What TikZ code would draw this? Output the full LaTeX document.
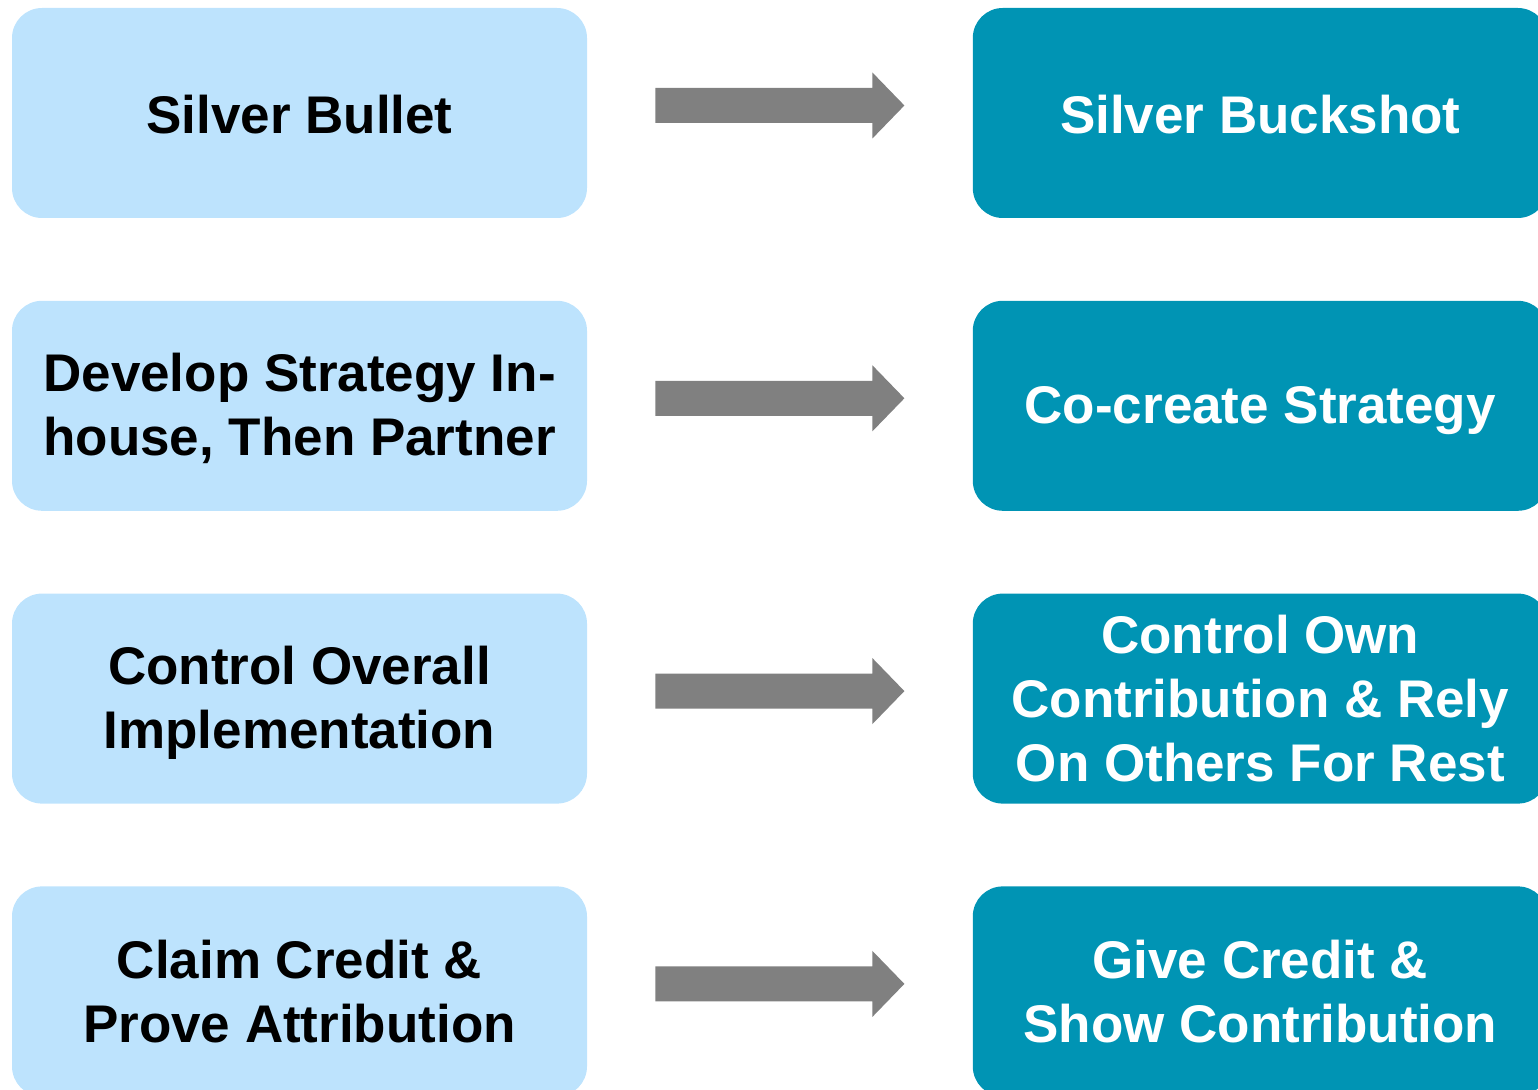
\documentclass[tikz,border=0pt]{standalone}
\usepackage{fontspec}
\setmainfont{Liberation Sans}
\usetikzlibrary{positioning,calc}
\definecolor{oldblue}{RGB}{189,227,253}
\definecolor{newteal}{RGB}{0,148,180}
\definecolor{arrowgray}{RGB}{128,128,128}
\tikzstyle{oldway} = [rectangle, rounded corners=15pt, 
fill=oldblue, text=black, 
minimum width=287.5pt, minimum height=105pt, inner sep=0pt, 
align=center, font=\fontsize{26.5}{32}\selectfont\bfseries]
\tikzstyle{newway} = [oldway, fill=newteal, text=white]
\tikzstyle{swap} = [fill=arrowgray]

% text set a little below the middle of its box
\newcommand{\lowtext}[2][2.5pt]{\raisebox{-#1}[\height][\depth]{\begin{tabular}{@{}c@{}}#2\end{tabular}}}

% fat grey arrow from one box to the next
\newcommand{\swaparrow}[2]{%
  \fill [swap] ($(#1.east)+(34pt,12.5pt)$) -- ($(#2.west)+(-50pt,12.5pt)$)
    -- ($(#2.west)+(-50pt,20.25pt)$) -- ($(#2.west)+(-34pt,3.75pt)$)
    -- ($(#2.west)+(-50pt,-12.75pt)$) -- ($(#2.west)+(-50pt,-5pt)$)
    -- ($(#1.east)+(34pt,-5pt)$) -- cycle;}

\begin{document}
\begin{tikzpicture}
    \useasboundingbox (0,0) rectangle (769pt,-545pt);
    \clip (0,0) rectangle (769pt,-545pt);
    %% Old way
    \node [oldway] (Bullet) at (149.75pt,-56.5pt) {\lowtext[4pt]{Silver Bullet}};
    \node [oldway, below=41pt of Bullet] (InHouse) {\lowtext{Develop Strategy In-\\house, Then Partner}};
    \node [oldway, below=41pt of InHouse] (Control) {\lowtext{Control Overall\\Implementation}};
    \node [oldway, below=41pt of Control] (Claim) {Claim Credit \&\\Prove Attribution};
    %% New way
    \node [newway, right=192.5pt of Bullet] (Buckshot) {\lowtext[4pt]{Silver Buckshot}};
    \node [newway, right=192.5pt of InHouse] (CoCreate) {\lowtext{Co-create Strategy}};
    \node [newway, right=192.5pt of Control] (Rely) {Control Own\\Contribution \& Rely\\On Others For Rest};
    \node [newway, right=192.5pt of Claim] (Give) {Give Credit \&\\Show Contribution};
    %% Shifts
    \swaparrow{Bullet}{Buckshot}
    \swaparrow{InHouse}{CoCreate}
    \swaparrow{Control}{Rely}
    \swaparrow{Claim}{Give}
  \end{tikzpicture}
\end{document}
